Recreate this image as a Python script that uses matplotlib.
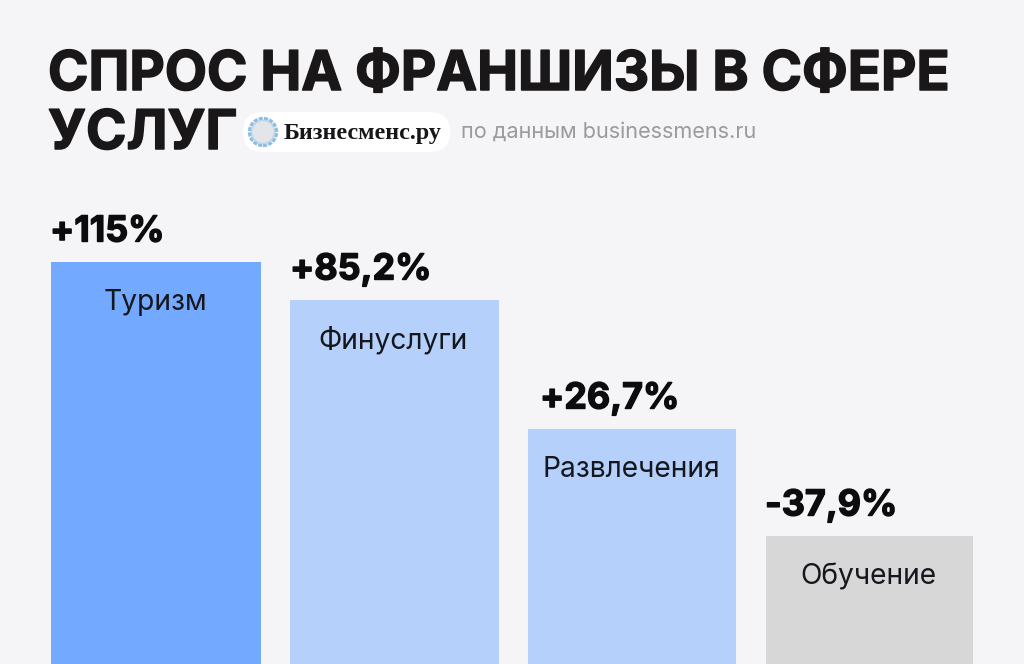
import matplotlib
matplotlib.use("Agg")
import matplotlib.pyplot as plt
import matplotlib.patheffects as pe
from matplotlib.patches import FancyBboxPatch, Circle

categories = ["Туризм", "Финуслуги", "Развлечения", "Обучение"]
value_labels = ["+115%", "+85,2%", "+26,7%", "-37,9%"]
bar_heights = [402, 364, 235, 128]
bar_colors = ["#73A9FF", "#B5D0FB", "#B5D0FB", "#D7D7D7"]
bar_lefts = [51, 290, 528, 766]
bar_rights = [261, 499, 736, 973]
label_lefts = [50, 290, 540, 765]
H = 664
FONT = "Inter"
BG = "#F5F5F7"
INK = "#1A1718"

fig = plt.figure(figsize=(10.24, 6.64), dpi=100, facecolor=BG)
ax = fig.add_axes([0, 0, 1, 1])
ax.set_xlim(0, 1024)
ax.set_ylim(0, H)
ax.axis("off")

heavy = [pe.withStroke(linewidth=1.0, foreground="#0C0C0E")]
for name, lab, h, c, l, r, lx in zip(categories, value_labels, bar_heights, bar_colors, bar_lefts, bar_rights, label_lefts):
    ax.bar(l, h, width=r - l, align="edge", color=c, linewidth=0)
    ax.text((l + r) / 2 - 1, h - 40.5, name, ha="center", va="center", fontsize=20.3, family=FONT, color="#15171C")
    ax.text(lx, h + 30, lab, ha="left", va="center", fontsize=25.8, family=FONT, weight="bold", color="#0C0C0E",
            path_effects=heavy)

title_fx = [pe.withStroke(linewidth=1.1, foreground=INK)]
ax.text(48, H - 76, "СПРОС НА ФРАНШИЗЫ В СФЕРЕ", ha="left", va="center", fontsize=39.4, family=FONT, weight="bold",
        color=INK, path_effects=title_fx)
ax.text(48, H - 135, "УСЛУГ", ha="left", va="center", fontsize=39.4, family=FONT, weight="bold",
        color=INK, path_effects=title_fx)

ax.add_patch(FancyBboxPatch((243, H - 152), 207, 40, boxstyle="round,pad=0,rounding_size=20",
                            fc="white", ec="none", zorder=2))
ax.add_patch(Circle((263, H - 132), 13.5, fc="#ECECEE", ec="#8CBDE2", lw=2.4, ls=(0, (1.2, 0.4)), zorder=3))
ax.add_patch(Circle((263, H - 132), 11.5, fc="#E4E5E8", ec="#B9D6EC", lw=1, zorder=3))
ax.text(284, H - 133, "Бизнесменс.ру", ha="left", va="center", fontsize=17.4, family="Liberation Serif",
        weight="bold", color="#17171A", zorder=3)
ax.text(461, H - 132, "по данным businessmens.ru", ha="left", va="center", fontsize=15.6, family=FONT, color="#9A9A9F")

fig.savefig("out.png", dpi=100, facecolor=BG)
